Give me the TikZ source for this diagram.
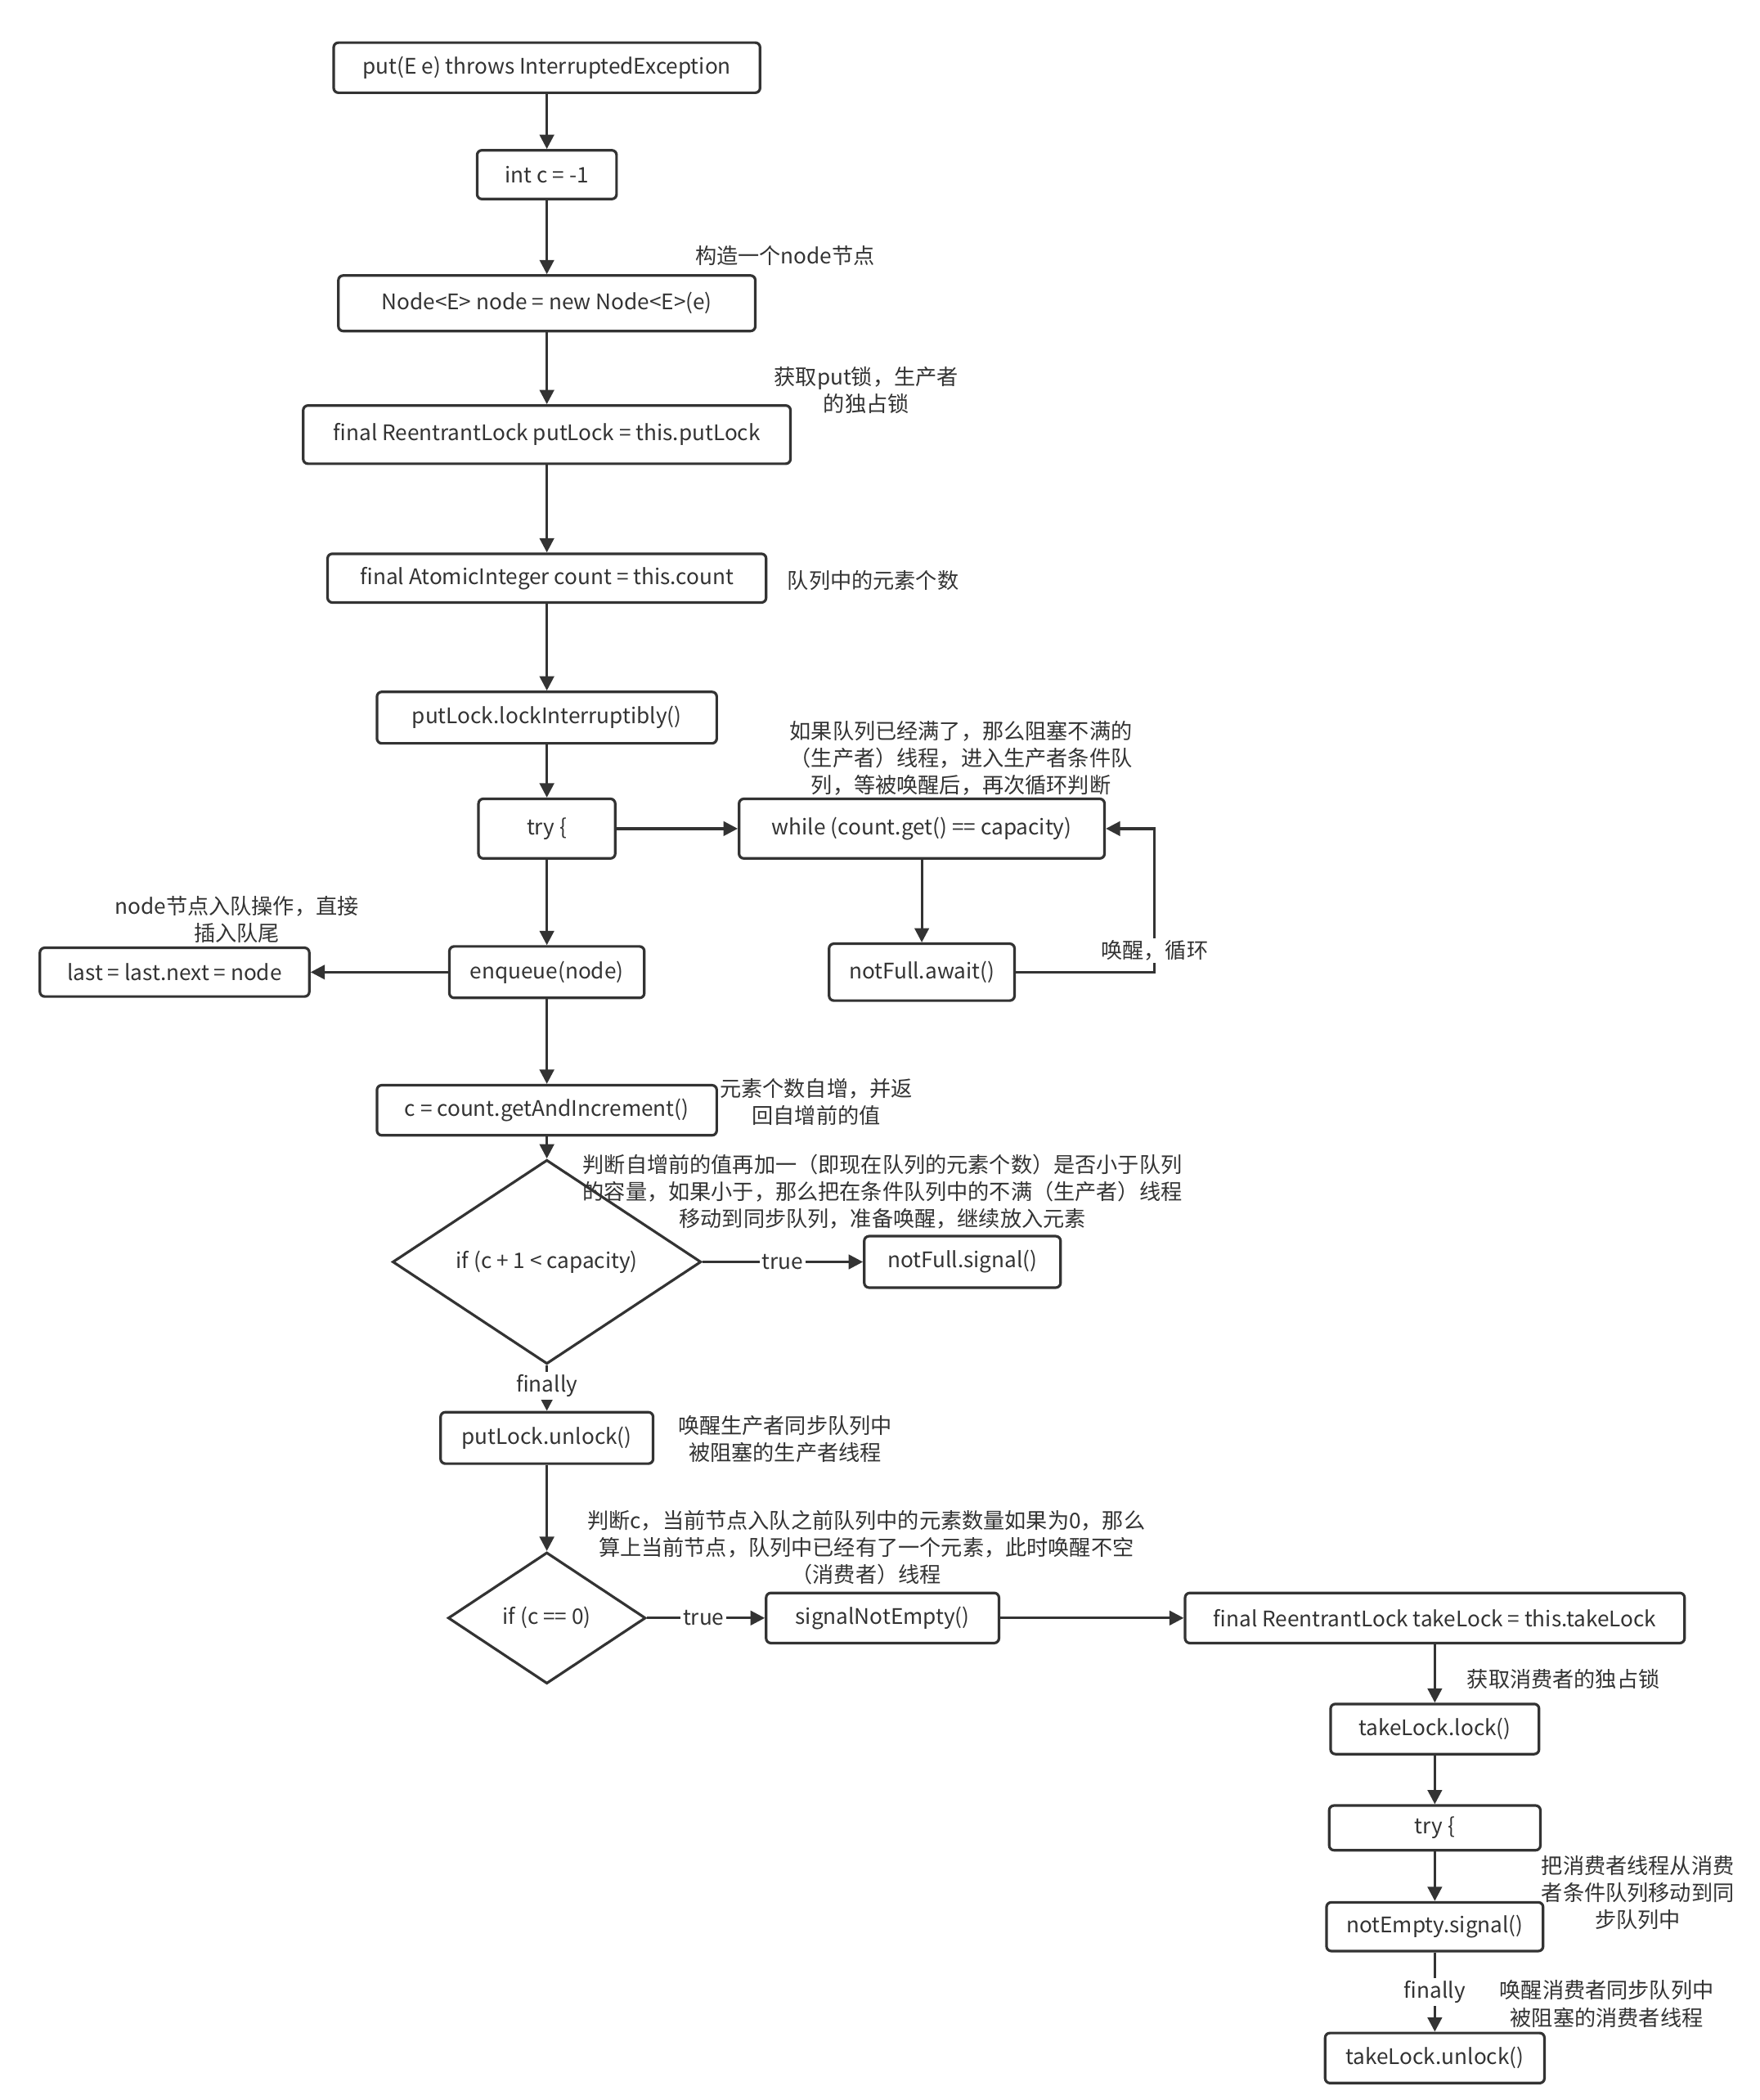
\documentclass[tikz,border=0pt]{standalone}
\usepackage{fontspec}
\setmainfont{Noto Sans CJK SC}
\usetikzlibrary{shapes.geometric,arrows.meta}
\begin{document}
\begin{tikzpicture}[x=0.02cm,y=-0.02cm,font=\fontsize{9}{11.4}\selectfont,
  line width=1.1pt, color={black!80},
  bx/.style n args={2}{draw, rounded corners=2pt, inner sep=0pt, minimum width=#1*0.02cm, minimum height=#2*0.02cm},
  dm/.style n args={2}{draw, diamond, inner sep=0pt, minimum width=#1*0.02cm, minimum height=#2*0.02cm},
  nt/.style={align=center, inner sep=0pt},
  lb/.style={fill=white, inner sep=1pt},
  ar/.style={-{Triangle[length=6pt,width=6pt]}}]
\useasboundingbox (0,0) rectangle (1300,1551);
\node[bx={315}{37}] (put) at (404,50) {put(E e) throws InterruptedException};
\node[bx={103}{36}] (intc) at (404,129) {int c = -1};
\node[bx={308}{41}] (node) at (404,224) {Node<E> node = new Node<E>(e)};
\node[bx={360}{43}] (pl) at (404,321) {final ReentrantLock putLock = this.putLock};
\node[bx={324}{36}] (cnt) at (404,427) {final AtomicInteger count = this.count};
\node[bx={251}{38}] (li) at (404,530) {putLock.lockInterruptibly()};
\node[bx={101}{44}] (try) at (404,612) {try \{};
\node[bx={270}{44}] (wh) at (681,612) {while (count.get() == capacity)};
\node[bx={137}{42}] (aw) at (681,718) {notFull.await()};
\node[bx={144}{38}] (enq) at (404,718) {enqueue(node)};
\node[bx={199}{36}] (last) at (129,718) {last = last.next = node};
\node[bx={251}{37}] (inc) at (404,820) {c = count.getAndIncrement()};
\node[dm={228}{93}] (if1) at (404,932) {if (c + 1 < capacity)};
\node[bx={145}{38}] (nfs) at (711,932) {notFull.signal()};
\node[bx={157}{38}] (ul) at (404,1062) {putLock.unlock()};
\node[dm={146}{97}] (if2) at (404,1195) {if (c == 0)};
\node[bx={172}{37}] (sne) at (652,1195) {signalNotEmpty()};
\node[bx={369}{37}] (tl) at (1060,1195) {final ReentrantLock takeLock = this.takeLock};
\node[bx={154}{37}] (tll) at (1060,1277) {takeLock.lock()};
\node[bx={156}{33}] (try2) at (1060,1350) {try \{};
\node[bx={160}{36}] (nes) at (1060,1423) {notEmpty.signal()};
\node[bx={162}{37}] (tlu) at (1060,1520) {takeLock.unlock()};

\draw[ar] (put) -- (intc);
\draw[ar] (intc) -- (node);
\draw[ar] (node) -- (pl);
\draw[ar] (pl) -- (cnt);
\draw[ar] (cnt) -- (li);
\draw[ar] (li) -- (try);
\draw[ar] (try) -- (wh);
\draw[ar] (wh) -- (aw);
\draw[ar] (aw.east) -- (853,718) coordinate (c1) -- (853,612) -- (wh.east);
\draw[ar] (try) -- (enq);
\draw[ar] (enq) -- (last);
\draw[ar] (enq) -- (inc);
\draw[ar] (inc) -- (if1);
\draw[ar] (if1) -- node[lb,pos=0.5]{true} (nfs);
\draw[ar] (if1) -- node[lb,pos=0.45]{finally} (ul);
\draw[ar] (ul) -- (if2);
\draw[ar] (if2) -- node[lb,pos=0.48]{true} (sne);
\draw[ar] (sne) -- (tl);
\draw[ar] (tl) -- (tll);
\draw[ar] (tll) -- (try2);
\draw[ar] (try2) -- (nes);
\draw[ar] (nes) -- node[lb]{finally} (tlu);

\node[nt] (a1) at (580,189) {构造一个node节点};
\node[nt] (a2) at (640,288) {获取put锁，生产者\\的独占锁};
\node[nt] (a3) at (645,429) {队列中的元素个数};
\node[nt] (a4) at (710,560) {如果队列已经满了，那么阻塞不满的\\（生产者）线程，进入生产者条件队\\列，等被唤醒后，再次循环判断};
\node[nt,fill=white,inner sep=1pt] (a5) at (853,702) {唤醒，循环};
\node[nt] (a6) at (175,679) {node节点入队操作，直接\\插入队尾};
\node[nt] (a7) at (603,814) {元素个数自增，并返\\回自增前的值};
\node[nt] (a8) at (652,880) {判断自增前的值再加一（即现在队列的元素个数）是否小于队列\\的容量，如果小于，那么把在条件队列中的不满（生产者）线程\\移动到同步队列，准备唤醒，继续放入元素};
\node[nt] (a9) at (580,1063) {唤醒生产者同步队列中\\被阻塞的生产者线程};
\node[nt] (a10) at (640,1143) {判断c，当前节点入队之前队列中的元素数量如果为0，那么\\算上当前节点，队列中已经有了一个元素，此时唤醒不空\\（消费者）线程};
\node[nt] (a11) at (1155,1240) {获取消费者的独占锁};
\node[nt] (a12) at (1210,1398) {把消费者线程从消费\\者条件队列移动到同\\步队列中};
\node[nt] (a13) at (1187,1480) {唤醒消费者同步队列中\\被阻塞的消费者线程};
\end{tikzpicture}
\end{document}
